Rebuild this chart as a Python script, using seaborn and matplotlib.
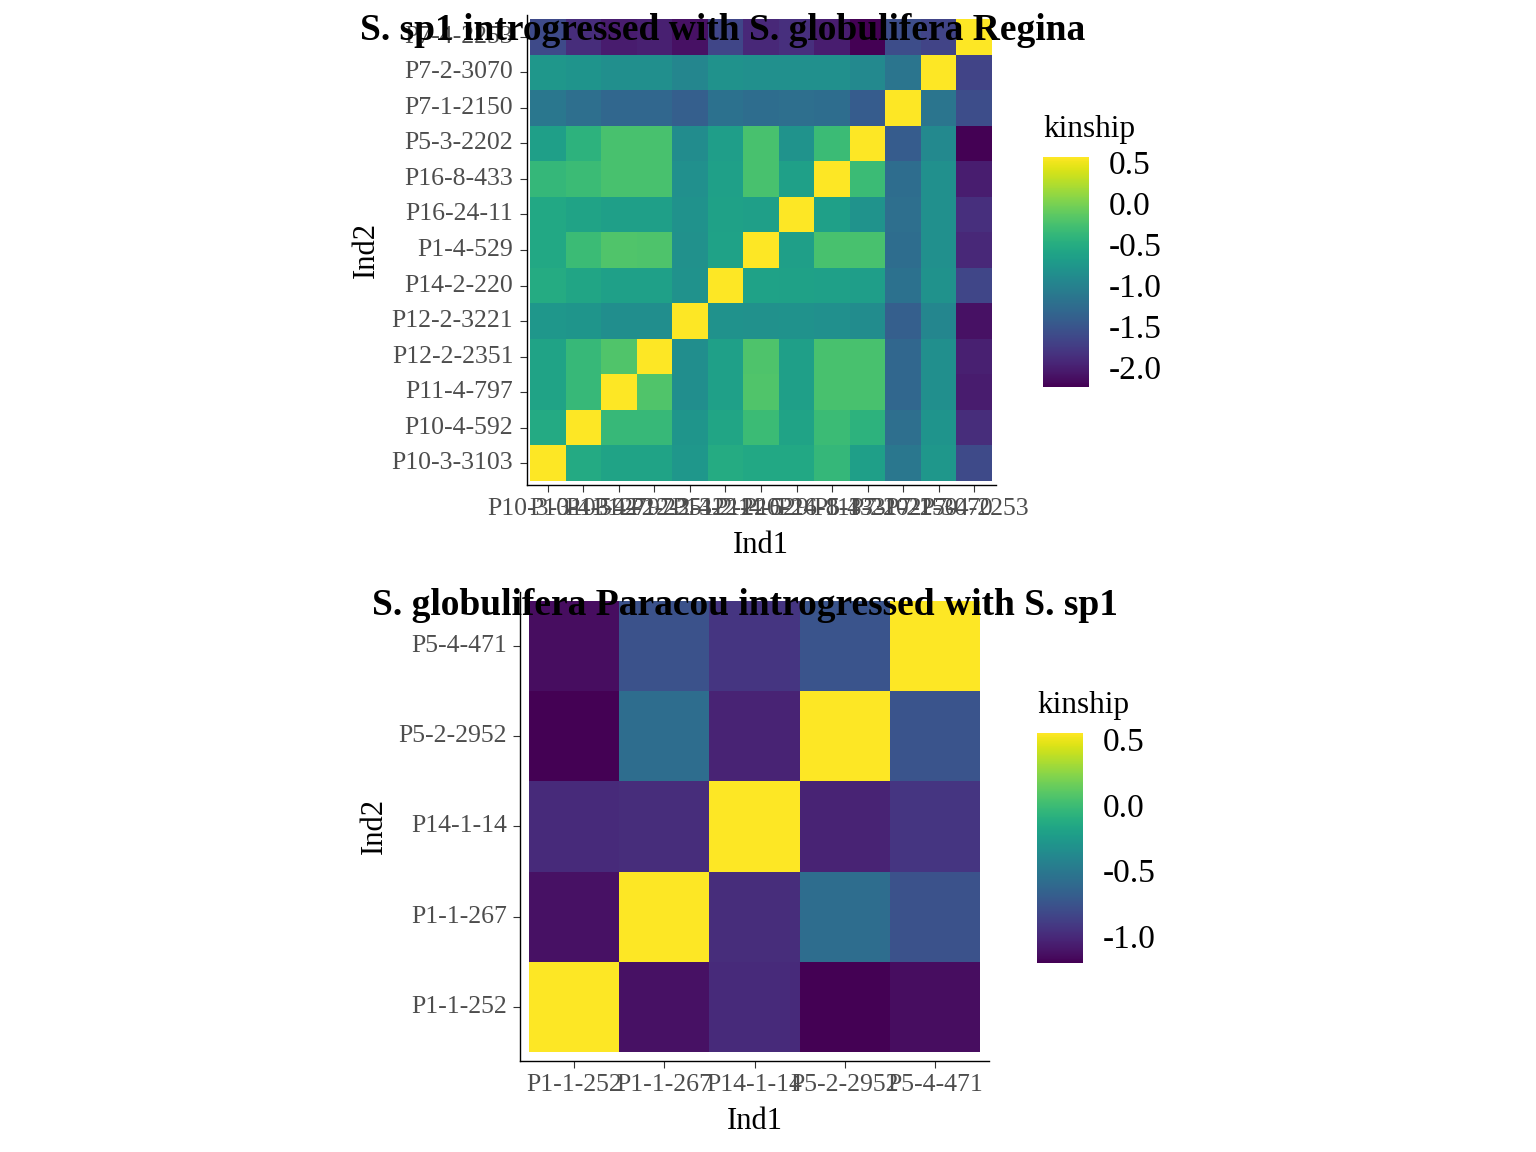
import numpy as np
import pandas as pd
import matplotlib
matplotlib.use('Agg')
import matplotlib.pyplot as plt
import seaborn as sns

sns.set_style('white')
plt.rcParams['font.family'] = ['Liberation Serif', 'DejaVu Serif']
plt.rcParams['axes.unicode_minus'] = False
plt.rcParams['text.color'] = 'black'
plt.rcParams['axes.labelcolor'] = 'black'

# ── Data: kinship matrices (lower triangles) ──────────────────────────────────
regina_ids = ['P10-3-3103', 'P10-4-592', 'P11-4-797', 'P12-2-2351', 'P12-2-3221',
              'P14-2-220', 'P1-4-529', 'P16-24-11', 'P16-8-433', 'P5-3-2202',
              'P7-1-2150', 'P7-2-3070', 'P7-4-2253']
regina_diag = 0.565
regina_lower = [
    [],
    [-0.54],
    [-0.61, -0.36],
    [-0.61, -0.36, -0.21],
    [-0.75, -0.78, -0.87, -0.87],
    [-0.53, -0.59, -0.66, -0.66, -0.82],
    [-0.56, -0.33, -0.21, -0.22, -0.83, -0.62],
    [-0.56, -0.61, -0.67, -0.67, -0.82, -0.64, -0.67],
    [-0.37, -0.33, -0.25, -0.25, -0.84, -0.66, -0.25, -0.66],
    [-0.67, -0.44, -0.25, -0.25, -0.89, -0.68, -0.25, -0.80, -0.33],
    [-1.13, -1.23, -1.31, -1.31, -1.40, -1.19, -1.25, -1.23, -1.25, -1.43],
    [-0.75, -0.79, -0.85, -0.85, -0.95, -0.82, -0.84, -0.84, -0.84, -0.92, -1.15],
    [-1.61, -1.88, -2.03, -1.99, -2.11, -1.65, -1.93, -1.86, -2.01, -2.24, -1.59, -1.68],
]
regina_ticks = [0.5, 0.0, -0.5, -1.0, -1.5, -2.0]

paracou_ids = ['P1-1-252', 'P1-1-267', 'P14-1-14', 'P5-2-2952', 'P5-4-471']
paracou_diag = 0.545
paracou_lower = [
    [],
    [-1.12],
    [-0.99, -0.98],
    [-1.20, -0.58, -1.03],
    [-1.14, -0.76, -0.93, -0.75],
]
paracou_ticks = [0.5, 0.0, -0.5, -1.0]


def to_matrix(ids, lower, diag):
    n = len(ids)
    m = np.full((n, n), diag)
    for i, row in enumerate(lower):
        for j, v in enumerate(row):
            m[i, j] = v
            m[j, i] = v
    # rows: Ind2, cols: Ind1 ; reverse rows so first id sits at the bottom
    return pd.DataFrame(m, index=ids, columns=ids).iloc[::-1]


W, H = 1536, 1152
fig = plt.figure(figsize=(W / 100, H / 100), dpi=100)


def px(x0, y0, x1, y1):
    return [x0 / W, 1 - y1 / H, (x1 - x0) / W, (y1 - y0) / H]


def panel(ax_box, cax_box, df, ticks, title, title_xy, legend_xy, ylabpad):
    ax = fig.add_axes(px(*ax_box))
    cax = fig.add_axes(px(*cax_box))
    vals = df.values
    sns.heatmap(df, ax=ax, cbar_ax=cax, cmap='viridis',
                vmin=vals.min(), vmax=vals.max(),
                xticklabels=True, yticklabels=True)
    n = len(df)
    ax.set_xlim(-0.1, n + 0.1)
    ax.set_ylim(n + 0.1, -0.1)
    for side in ['left', 'bottom']:
        ax.spines[side].set_visible(True)
        ax.spines[side].set_color('black')
        ax.spines[side].set_linewidth(1.0)
    for side in ['top', 'right']:
        ax.spines[side].set_visible(False)
    ax.tick_params(axis='both', which='major', bottom=True, left=True,
                   length=5, width=0.8, color='#333333',
                   labelsize=18.5, labelcolor='#4D4D4D', pad=4.5)
    plt.setp(ax.get_xticklabels(), rotation=0)
    plt.setp(ax.get_yticklabels(), rotation=0)
    ax.set_xlabel('Ind1', fontsize=22, labelpad=8, color='black')
    ax.set_ylabel('Ind2', fontsize=22, labelpad=ylabpad, color='black')

    cbar = ax.collections[0].colorbar
    cbar.outline.set_visible(False)
    cbar.set_ticks(ticks)
    cbar.set_ticklabels([f'{t:.1f}' for t in ticks])
    cax.minorticks_off()
    cax.tick_params(axis='y', direction='in', left=True, right=True,
                    length=8, width=1.2, color='white',
                    labelleft=False, labelright=True, labelsize=24,
                    labelcolor='black', pad=14)

    fig.text(title_xy[0] / W, 1 - title_xy[1] / H, title, ha='center',
             va='baseline', fontsize=27, fontweight='bold', color='black')
    fig.text(legend_xy[0] / W, 1 - legend_xy[1] / H, 'kinship',
             ha='left', va='baseline', fontsize=22.5, color='black')


panel((526.5, 15.5, 995.5, 484.5), (1043, 157, 1089, 387),
      to_matrix(regina_ids, regina_lower, regina_diag), regina_ticks,
      'S. sp1 introgressed with S. globulifera Regina', (723, 40), (1043, 137), 8)

panel((520, 592, 989, 1061), (1037, 733, 1083, 963),
      to_matrix(paracou_ids, paracou_lower, paracou_diag), paracou_ticks,
      'S. globulifera Paracou introgressed with S. sp1', (745, 615), (1037, 713), 7)

fig.savefig('out.png', dpi=100)
